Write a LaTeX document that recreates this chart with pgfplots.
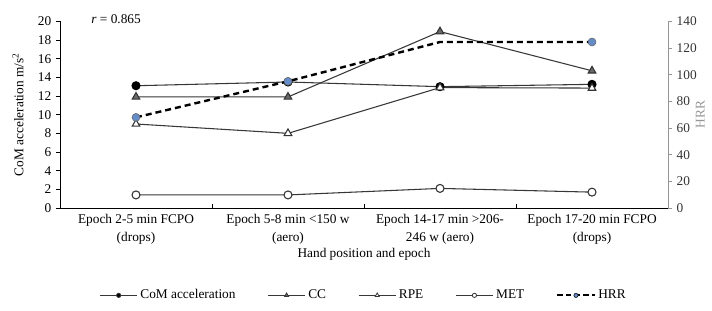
\documentclass[border=0pt]{standalone}
\usepackage{fontspec}
\setmainfont{Liberation Serif}
\usepackage{pgfplots}
\pgfplotsset{compat=1.18}
\usetikzlibrary{calc}
\definecolor{hrrblue}{RGB}{100,140,198}
\definecolor{linegray}{RGB}{55,55,55}
\definecolor{ccgray}{RGB}{105,105,105}
\definecolor{axgray}{RGB}{150,150,150}
\begin{document}
\begin{tikzpicture}[font=\fontsize{10}{12}\selectfont]
\begin{axis}[name=a,
  scale only axis, width=456pt, height=140pt,
  xmin=-0.5, xmax=3.5, ymin=0, ymax=20,
  /pgf/number format/assume math mode=true,
  axis x line*=bottom, axis y line*=left,
  axis line style={black, line width=0.6pt, -},
  ytick={0,2,...,20},
  ytick align=outside,
  y tick style={black, line width=0.6pt},
  major tick length=3pt,
  xtick={0.5,1.5,2.5}, xticklabels={},
  xtick align=inside,
  x tick style={black, line width=0.6pt},
  extra x ticks={0,1,2,3},
  extra x tick labels={{Epoch 2-5 min FCPO\\(drops)},{Epoch 5-8 min <150 w\\(aero)},{Epoch 14-17 min >206-\\246 w (aero)},{Epoch 17-20 min FCPO\\(drops)}},
  extra x tick style={major tick length=0pt, xticklabel style={align=center, font=\fontsize{10}{14}\selectfont, yshift=-1pt}},
  ylabel={CoM acceleration m/s\textsuperscript{2}},
  ylabel style={at={(axis description cs:-0.069,0.5)}, anchor=center},
  xlabel={Hand position and epoch},
  xlabel style={at={(axis description cs:0.5,-0.25)}, anchor=center},
  legend style={at={(axis description cs:0.5,-0.468)}, anchor=center, draw=none, fill=none,
    /tikz/every even column/.append style={column sep=22pt}},
  legend columns=5,
  legend cell align=left,
  legend image code/.code={\draw[mark repeat=2,mark phase=2,#1] plot coordinates {(0pt,0pt) (14pt,0pt) (28pt,0pt)};},
]
% CoM acceleration
\addplot[linegray, line width=0.8pt, mark=*, mark size=3pt, mark options={fill=black, draw=black}, forget plot]
  coordinates {(0,13.1) (1,13.5) (2,13.0) (3,13.25)};
% CC
\addplot[linegray, line width=0.8pt, mark=triangle*, mark size=3.3pt, mark options={fill=ccgray, draw=black!80}, forget plot]
  coordinates {(0,11.9) (1,11.9) (2,18.9) (3,14.7)};
% RPE
\addplot[linegray, line width=0.8pt, mark=triangle*, mark size=3.3pt, mark options={fill=white, draw=black!80}, forget plot]
  coordinates {(0,9.0) (1,8.0) (2,12.9) (3,12.85)};
% MET
\addplot[linegray, line width=0.8pt, mark=*, mark size=3pt, mark options={fill=white, draw=black!80}, forget plot]
  coordinates {(0,1.4) (1,1.4) (2,2.1) (3,1.7)};
\addlegendimage{linegray, line width=0.6pt, mark=*, mark size=1.6pt, mark options={fill=black}}
\addlegendentry{CoM acceleration}
\addlegendimage{linegray, line width=0.6pt, mark=triangle*, mark size=1.8pt, mark options={fill=ccgray}}
\addlegendentry{CC}
\addlegendimage{linegray, line width=0.6pt, mark=triangle*, mark size=1.8pt, mark options={fill=white}}
\addlegendentry{RPE}
\addlegendimage{linegray, line width=0.6pt, mark=*, mark size=1.6pt, mark options={fill=white}}
\addlegendentry{MET}
\addlegendimage{black, line width=1.5pt, dash pattern=on 4pt off 2.5pt, mark=*, mark size=1.6pt, mark options={solid, fill=hrrblue, line width=0.4pt}}
\addlegendentry{HRR}
\end{axis}
\begin{axis}[
  scale only axis, width=456pt, height=140pt,
  xmin=-0.5, xmax=3.5, ymin=0, ymax=140,
  /pgf/number format/assume math mode=true,
  axis x line=none, axis y line*=right,
  axis line style={axgray, line width=0.6pt, -},
  ytick={0,20,...,140},
  ytick align=outside,
  major tick length=3pt,
  y tick style={axgray, line width=0.6pt},
  yticklabel style={black!80},
  ylabel={HRR},
  ylabel style={axgray, at={(axis description cs:1.053,0.5)}, anchor=center},
]
\addplot[black, line width=1.8pt, dash pattern=on 4.5pt off 3pt, mark=*, mark size=3pt,
  mark options={solid, fill=hrrblue, draw=black!60, line width=0.4pt}, mark indices={1,2,4}]
  coordinates {(0,68) (1,95) (2,124.5) (3,124.5)};
\end{axis}
\node[anchor=west] at ($(a.north west)+(20pt,2pt)$) {\textit{r} = 0.865};
\pgfresetboundingbox
\path ($(a.south west)+(-45pt,-77pt)$) rectangle ($(a.north east)+(33pt,16pt)$);
\end{tikzpicture}
\end{document}
